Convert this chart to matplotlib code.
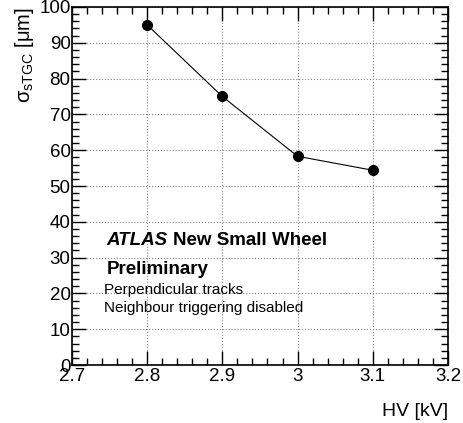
import matplotlib
matplotlib.use('Agg')
import matplotlib.pyplot as plt
from matplotlib.ticker import MultipleLocator

plt.rcParams['font.family'] = ['Liberation Sans', 'DejaVu Sans']

hv = [2.8, 2.9, 3.0, 3.1]
sigma = [95.0, 75.0, 58.3, 54.4]
xtick_labels = ['2.7', '2.8', '2.9', '3', '3.1', '3.2']

fig = plt.figure(figsize=(4.64, 4.23), dpi=100)
ax = fig.add_axes([0.155, 0.137, 0.8105, 0.8465])

ax.plot(hv, sigma, color='black', lw=0.8, marker='o', ms=7, mfc='black', mec='black', zorder=3)

ax.set_xlim(2.7, 3.2)
ax.set_ylim(0, 100)
ax.xaxis.set_minor_locator(MultipleLocator(0.02))
ax.yaxis.set_major_locator(MultipleLocator(10))
ax.yaxis.set_minor_locator(MultipleLocator(2))
ax.set_xticks([2.7, 2.8, 2.9, 3.0, 3.1, 3.2])
ax.set_xticklabels(xtick_labels)

ax.tick_params(which='both', direction='in', top=True, right=True, labelsize=13.5, width=1)
ax.tick_params(which='major', length=10)
ax.tick_params(which='minor', length=5)
ax.tick_params(axis='x', pad=2)
ax.tick_params(axis='y', pad=1)
for s in ax.spines.values():
    s.set_linewidth(1.2)

ax.grid(True, which='major', color='#888888', linestyle=':', lw=0.8)
ax.set_axisbelow(True)

ax.set_ylabel(r'$\mathregular{\sigma_{sTGC}}$ [$\mathregular{\mu}$m]', fontsize=14.5)
ax.yaxis.set_label_coords(-0.095, 1.0)
ax.yaxis.label.set_horizontalalignment('right')
ax.set_xlabel('HV [kV]', fontsize=14)
ax.xaxis.set_label_coords(1.0, -0.105)
ax.xaxis.label.set_horizontalalignment('right')

ax.text(0.092, 0.347, 'ATLAS', transform=ax.transAxes, fontsize=13.5, fontweight='bold',
        fontstyle='italic', va='center')
ax.text(0.27, 0.347, 'New Small Wheel', transform=ax.transAxes, fontsize=13.5, fontweight='bold',
        va='center')
ax.text(0.092, 0.267, 'Preliminary', transform=ax.transAxes, fontsize=13.5, fontweight='bold',
        va='center')
ax.text(0.084, 0.21, 'Perpendicular tracks', transform=ax.transAxes, fontsize=11, va='center')
ax.text(0.084, 0.158, 'Neighbour triggering disabled', transform=ax.transAxes, fontsize=11,
        va='center')

fig.savefig('out.png', dpi=100)
